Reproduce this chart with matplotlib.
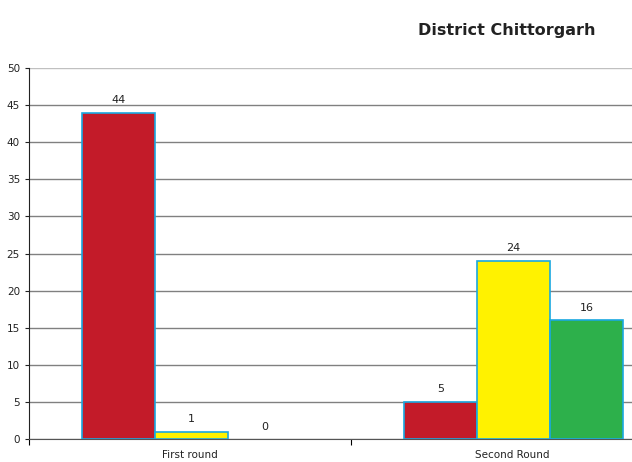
import numpy as np
import matplotlib
matplotlib.use('Agg')
import matplotlib.pyplot as plt

# 数据
categories = ['First round', 'Second Round']
red_vals = [44, 5]
yellow_vals = [1, 24]
green_vals = [0, 16]
series = [red_vals, yellow_vals, green_vals]
colors = ['#c31b29', '#fff200', '#2db04b']

fig = plt.figure(figsize=(6.32, 4.62), dpi=100)
ax = fig.add_axes([29/632, 1 - 439/462, 1 - 29/632, (439 - 68)/462])

x = np.arange(len(categories))
w = 0.227
for i, (vals, c) in enumerate(zip(series, colors)):
    pos = x + (i - 1) * w + 0.005
    edges = ['#1aa8e0' if v > 0 else 'none' for v in vals]
    ax.bar(pos, vals, width=w, color=c, edgecolor=edges, linewidth=1.2, zorder=3)
    for px, v in zip(pos, vals):
        ax.text(px, v + 1.0, str(v), ha='center', va='bottom', fontsize=8, color='#222222')

ax.set_ylim(0, 50)
ax.set_xlim(-0.5, (632 - 29) / 322 - 0.5)
ax.set_yticks(range(0, 51, 5))
ax.yaxis.grid(True, color='#808080', linewidth=1, zorder=0)
ax.get_ygridlines()[-1].set_color('#c0c0c0')
ax.set_axisbelow(True)
ax.tick_params(axis='y', labelsize=7.5, length=3, direction='out', colors='#222222')

ax.set_xticks([-0.5, 0.5])
ax.set_xticklabels(['', ''])
ax.set_xticks(x, minor=True)
ax.set_xticklabels(categories, minor=True)
ax.tick_params(axis='x', which='major', length=4, direction='out')
ax.tick_params(axis='x', which='minor', length=0, labelsize=7.5, pad=8, colors='#222222')

for s in ['top', 'right']:
    ax.spines[s].set_visible(False)
ax.spines['left'].set_color('#222222')
ax.spines['bottom'].set_color('#555555')

fig.text(507/632, 1 - 31/462, 'District Chittorgarh', ha='center', va='center',
         fontsize=11.5, fontweight='bold', color='#222222')

fig.savefig('out.png', dpi=100)
